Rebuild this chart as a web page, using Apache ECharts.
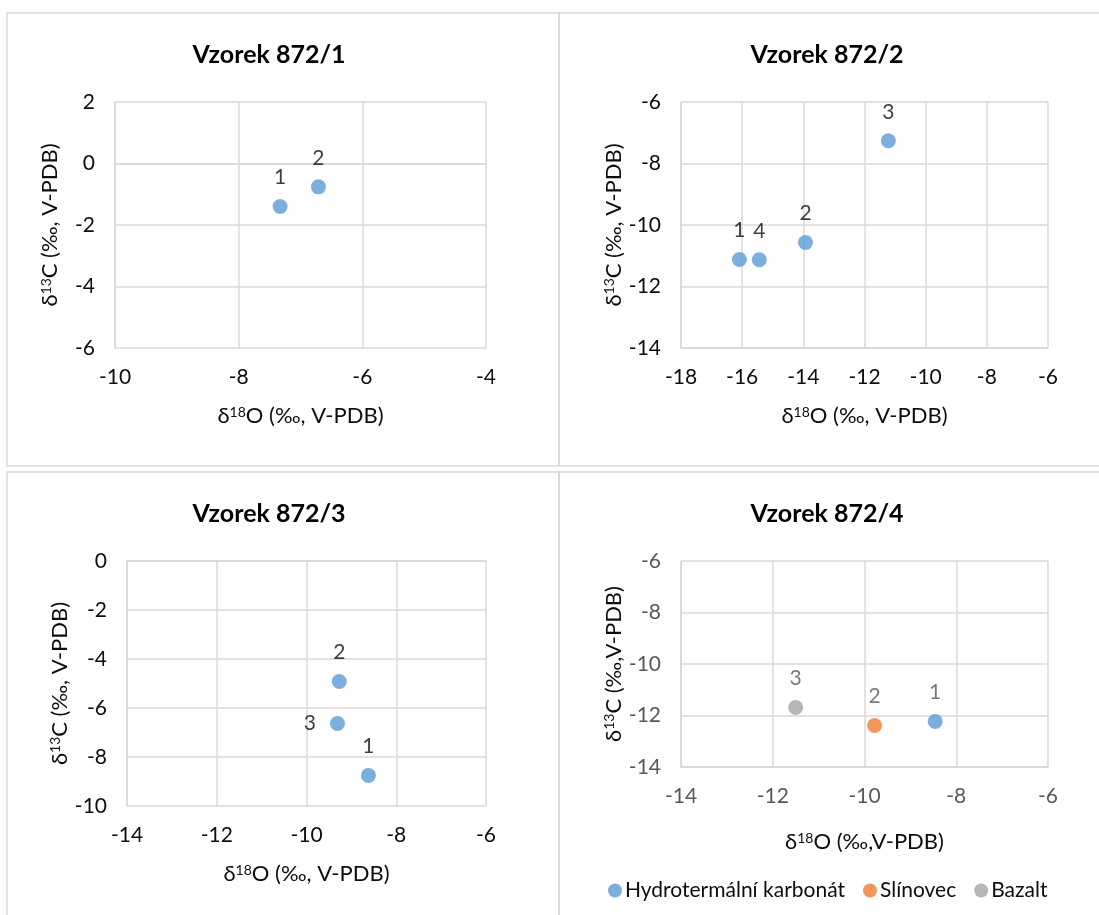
<!DOCTYPE html>
<html>
<head>
<meta charset="utf-8">
<script src="https://cdn.jsdelivr.net/npm/echarts@6/dist/echarts.min.js"></script>
<style>
  html, body { margin: 0; padding: 0; background: #fff; }
  #main { width: 1099px; height: 915px; }
</style>
</head>
<body>
<div id="main"></div>
<script>
// data (d18O, d13C)
var s1O = [-7.33, -6.71];
var s1C = [-1.40, -0.76];
var s1Lab = ['1', '2'];

var s2O = [-16.09, -13.93, -11.22, -15.44];
var s2C = [-11.12, -10.57, -7.26, -11.13];
var s2Lab = ['1', '2', '3', '4'];

var s3O = [-8.62, -9.27, -9.31];
var s3C = [-8.75, -4.92, -6.63];
var s3Lab = ['1', '2', '3'];

var s4HydroO = [-8.46], s4HydroC = [-12.23], s4HydroLab = ['1'];
var s4SlinO = [-9.78], s4SlinC = [-12.39], s4SlinLab = ['2'];
var s4BazO = [-11.50], s4BazC = [-11.69], s4BazLab = ['3'];

var titles = ['Vzorek 872/1', 'Vzorek 872/2', 'Vzorek 872/3', 'Vzorek 872/4'];
var seriesNames = ['Hydrotermální karbonát', 'Slínovec', 'Bazalt'];
var colors = ['#5B9BD5', '#ED7D31', '#A5A5A5'];

var FONT = 'Lato, "Open Sans", sans-serif';
var gridColor = '#D9D9D9';

function pts(xs, ys, labs) {
  var out = [];
  for (var i = 0; i < xs.length; i++) out.push({ value: [xs[i], ys[i]], name: labs[i] });
  return out;
}

function nameStyle(col) {
  return { fontFamily: FONT, fontSize: 22, color: col,
    rich: { sup: { fontSize: 14, verticalAlign: 'top', lineHeight: 15, fontFamily: FONT, color: col } } };
}
function xAx(idx, min, max, name, col, tickCol, gap) {
  return {
    gridIndex: idx, type: 'value', min: min, max: max, interval: 2,
    name: name, nameLocation: 'middle', nameGap: gap || 57,
    nameTextStyle: nameStyle(col),
    axisLine: { show: true, lineStyle: { color: gridColor, width: 1.5 } },
    axisTick: { show: false },
    axisLabel: { fontFamily: FONT, fontSize: 21, color: tickCol, margin: 19 },
    splitLine: { show: true, lineStyle: { color: gridColor, width: 1.5 } }
  };
}
function yAx(idx, min, max, name, col, tickCol) {
  return {
    gridIndex: idx, type: 'value', min: min, max: max, interval: 2,
    name: name, nameLocation: 'middle', nameGap: 54, nameRotate: 90,
    nameTextStyle: nameStyle(col),
    axisLine: { show: true, lineStyle: { color: gridColor, width: 1.5 } },
    axisTick: { show: false },
    axisLabel: { fontFamily: FONT, fontSize: 21, color: tickCol, margin: 20 },
    splitLine: { show: true, lineStyle: { color: gridColor, width: 1.5 } }
  };
}
function sc(idx, name, data, color, labCol, pos) {
  return {
    type: 'scatter', name: name, xAxisIndex: idx, yAxisIndex: idx,
    symbol: 'circle', symbolSize: 15, data: data,
    itemStyle: { color: color },
    label: { show: true, formatter: '{b}', position: pos || 'top', distance: pos ? 14 : 11, fontFamily: FONT, fontSize: 21, color: labCol },
    emphasis: { disabled: true }
  };
}

var xName = 'δ{sup|18}O (‰, V-PDB)';
var yName = 'δ{sup|13}C (‰, V-PDB)';
var dark = '#0d0d0d', grey = '#595959';

var titleStyle = { fontFamily: FONT, fontSize: 25, fontWeight: 'bold', color: '#000' };

var chart = echarts.init(document.getElementById('main'));
chart.setOption({
  backgroundColor: '#fff',
  animation: false,
  graphic: [
    { type: 'rect', shape: { x: 7, y: 13, width: 552, height: 453 }, style: { fill: 'none', stroke: gridColor, lineWidth: 1.5 } },
    { type: 'rect', shape: { x: 559, y: 13, width: 560, height: 453 }, style: { fill: 'none', stroke: gridColor, lineWidth: 1.5 } },
    { type: 'rect', shape: { x: 7, y: 472, width: 552, height: 460 }, style: { fill: 'none', stroke: gridColor, lineWidth: 1.5 } },
    { type: 'rect', shape: { x: 559, y: 472, width: 560, height: 460 }, style: { fill: 'none', stroke: gridColor, lineWidth: 1.5 } }
  ],
  title: [
    { text: titles[0], left: 264, top: 37, textAlign: 'center', textStyle: titleStyle },
    { text: titles[1], left: 822, top: 37, textAlign: 'center', textStyle: titleStyle },
    { text: titles[2], left: 264, top: 496, textAlign: 'center', textStyle: titleStyle },
    { text: titles[3], left: 822, top: 496, textAlign: 'center', textStyle: titleStyle }
  ],
  legend: {
    data: seriesNames, left: 603, top: 875, icon: 'circle', itemWidth: 14, itemHeight: 14, itemGap: 18,
    textStyle: { fontFamily: FONT, fontSize: 21, color: dark, padding: [0, 0, 0, -2] },
    selectedMode: false
  },
  grid: [
    { left: 115, top: 102, width: 371, height: 246 },
    { left: 681, top: 102, width: 367, height: 246 },
    { left: 127, top: 561, width: 359, height: 245 },
    { left: 681, top: 561, width: 367, height: 206 }
  ],
  xAxis: [
    xAx(0, -10, -4, xName, dark, dark),
    xAx(1, -18, -6, xName, dark, dark),
    xAx(2, -14, -6, xName, dark, dark),
    xAx(3, -14, -6, 'δ{sup|18}O (‰,V-PDB)', dark, grey, 64)
  ],
  yAxis: [
    yAx(0, -6, 2, yName, dark, dark),
    yAx(1, -14, -6, yName, dark, dark),
    yAx(2, -10, 0, yName, dark, dark),
    yAx(3, -14, -6, 'δ{sup|13}C (‰,V-PDB)', dark, grey)
  ],
  series: [
    sc(0, seriesNames[0], pts(s1O, s1C, s1Lab), colors[0], dark),
    sc(1, seriesNames[0], pts(s2O, s2C, s2Lab), colors[0], dark),
    sc(2, seriesNames[0], pts(s3O.slice(0, 2), s3C.slice(0, 2), s3Lab.slice(0, 2)), colors[0], dark),
    sc(2, seriesNames[0], pts(s3O.slice(2), s3C.slice(2), s3Lab.slice(2)), colors[0], dark, 'left'),
    sc(3, seriesNames[0], pts(s4HydroO, s4HydroC, s4HydroLab), colors[0], grey),
    sc(3, seriesNames[1], pts(s4SlinO, s4SlinC, s4SlinLab), colors[1], grey),
    sc(3, seriesNames[2], pts(s4BazO, s4BazC, s4BazLab), colors[2], grey)
  ]
});
</script>
</body>
</html>
